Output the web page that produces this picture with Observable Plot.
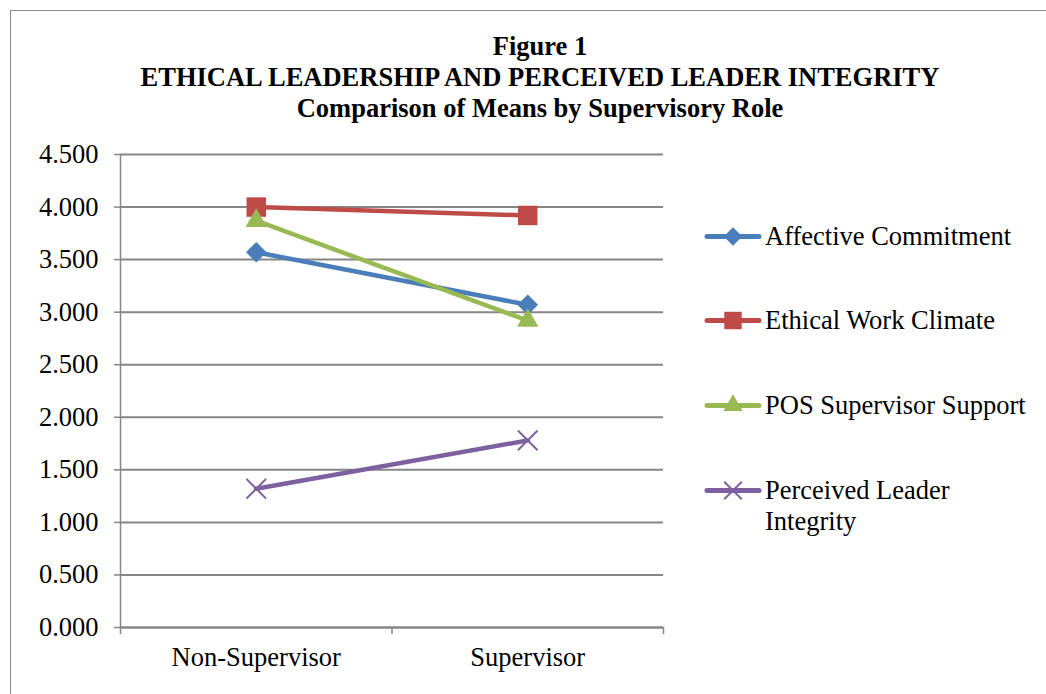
<!DOCTYPE html>
<html><head><meta charset="utf-8">
<script src="https://cdn.jsdelivr.net/npm/d3@7"></script>
<script src="https://cdn.jsdelivr.net/npm/@observablehq/plot@0.6"></script>
<style>
body{margin:0;background:#fff;}
#wrap{position:relative;width:1046px;height:694px;overflow:hidden;font-family:"Liberation Serif","Times New Roman",serif;background:#fff;}
#frame{position:absolute;left:10px;top:10px;width:1100px;height:800px;border:1.5px solid #8c8c8c;}
#title{position:absolute;left:0;width:1080px;top:31px;text-align:center;font-weight:bold;font-size:26.5px;line-height:31px;color:#000;}
#chart{position:absolute;left:0;top:0;}
.leg{position:absolute;left:704px;display:flex;align-items:flex-start;font-size:26.5px;line-height:31px;color:#000;}
.leg svg{flex:none;margin-top:0;}
.leg span{margin-left:3px;}
</style></head>
<body>
<div id="wrap">
  <div id="frame"></div>
  <div id="title"></div>
  <div id="chart"></div>
  <div id="legend"></div>
</div>
<script>
const titleLines = ["Figure 1", "ETHICAL LEADERSHIP AND PERCEIVED LEADER INTEGRITY", "Comparison of Means by Supervisory Role"];
const categories = ["Non-Supervisor", "Supervisor"];
const seriesNames = ["Affective Commitment", "Ethical Work Climate", "POS Supervisor Support", "Perceived Leader Integrity"];
const legendLabels = [["Affective Commitment"], ["Ethical Work Climate"], ["POS Supervisor Support"], ["Perceived Leader", "Integrity"]];
const affective = [3.57, 3.07];
const ethical = [4.00, 3.92];
const posSupport = [3.87, 2.92];
const integrity = [1.32, 1.78];
const yTicks = [0, 0.5, 1, 1.5, 2, 2.5, 3, 3.5, 4, 4.5];
const colors = ["#4a7ebb", "#be4b48", "#98b954", "#7d60a0"];
const symbols = ["diamond2", "square", "triangle", "times"];
const symbolR = [9.3, 11, 8, 9];

document.getElementById("title").innerHTML = titleLines.map(t => `<div>${t}</div>`).join("");

const valuesBySeries = [affective, ethical, posSupport, integrity];
const rows = [];
seriesNames.forEach((s, si) => categories.forEach((c, ci) => rows.push({series: s, cat: c, xi: ci + 0.5, value: valuesBySeries[si][ci]})));

const grey = "#868686";
const dotMarks = seriesNames.map((s, si) => {
  const filled = symbols[si] !== "times";
  return Plot.dot(rows.filter(d => d.series === s), {
    x: "xi", y: "value", symbol: () => symbols[si], r: symbolR[si],
    fill: filled ? colors[si] : "none",
    stroke: filled ? "none" : colors[si],
    strokeWidth: filled ? 0 : 2
  });
});

const chart = Plot.plot({
  width: 1046, height: 694,
  marginLeft: 120, marginRight: 383, marginTop: 154, marginBottom: 67,
  style: {background: "transparent", fontFamily: "'Liberation Serif','Times New Roman',serif", fontSize: "26.5px", color: "#000"},
  x: {domain: [0, 2], axis: null},
  y: {domain: [0, 4.5], axis: null},
  color: {domain: seriesNames, range: colors},
  symbol: {domain: symbols, range: symbols},
  marks: [
    Plot.gridY(yTicks, {stroke: grey, strokeOpacity: 1, strokeWidth: 2}),
    Plot.ruleX([0], {stroke: grey, strokeWidth: 1.5}),
    Plot.axisY(yTicks, {label: null, tickFormat: d3.format(".3f"), tickSize: 6, tickPadding: 16, fontSize: 26.5, stroke: grey, fill: "#000", strokeWidth: 1.5}),
    Plot.ruleY([0], {stroke: grey, strokeWidth: 2}),
    Plot.axisX([0, 1, 2], {label: null, tickSize: 7, tickFormat: () => "", stroke: grey, strokeWidth: 1.5}),
    Plot.axisX([0.5, 1.5], {label: null, tickSize: 0, tickPadding: 20, tickFormat: d => categories[Math.round(d - 0.5)], fontSize: 26.5, fill: "#000"}),
    Plot.line(rows, {x: "xi", y: "value", z: "series", stroke: "series", strokeWidth: 4.5}),
    ...dotMarks
  ]
});
document.getElementById("chart").appendChild(chart);

// legend
const legendTops = [221, 305, 390, 475];
const leg = document.getElementById("legend");
seriesNames.forEach((s, si) => {
  const div = document.createElement("div");
  div.className = "leg";
  div.style.top = legendTops[si] + "px";
  const path = d3.symbol(d3["symbol" + {diamond2: "Diamond2", square: "Square", triangle: "Triangle", times: "Times"}[symbols[si]]], Math.PI * symbolR[si] * symbolR[si] * 0.8)();
  const filled = symbols[si] !== "times";
  div.innerHTML = `<svg width="58" height="31"><line x1="3" x2="55" y1="15.5" y2="15.5" stroke="${colors[si]}" stroke-width="5" stroke-linecap="round"/><path transform="translate(29,15.5)" d="${path}" fill="${filled ? colors[si] : "none"}" stroke="${filled ? "none" : colors[si]}" stroke-width="2"/></svg><span>${legendLabels[si].join("<br>")}</span>`;
  leg.appendChild(div);
});
</script>
</body></html>
